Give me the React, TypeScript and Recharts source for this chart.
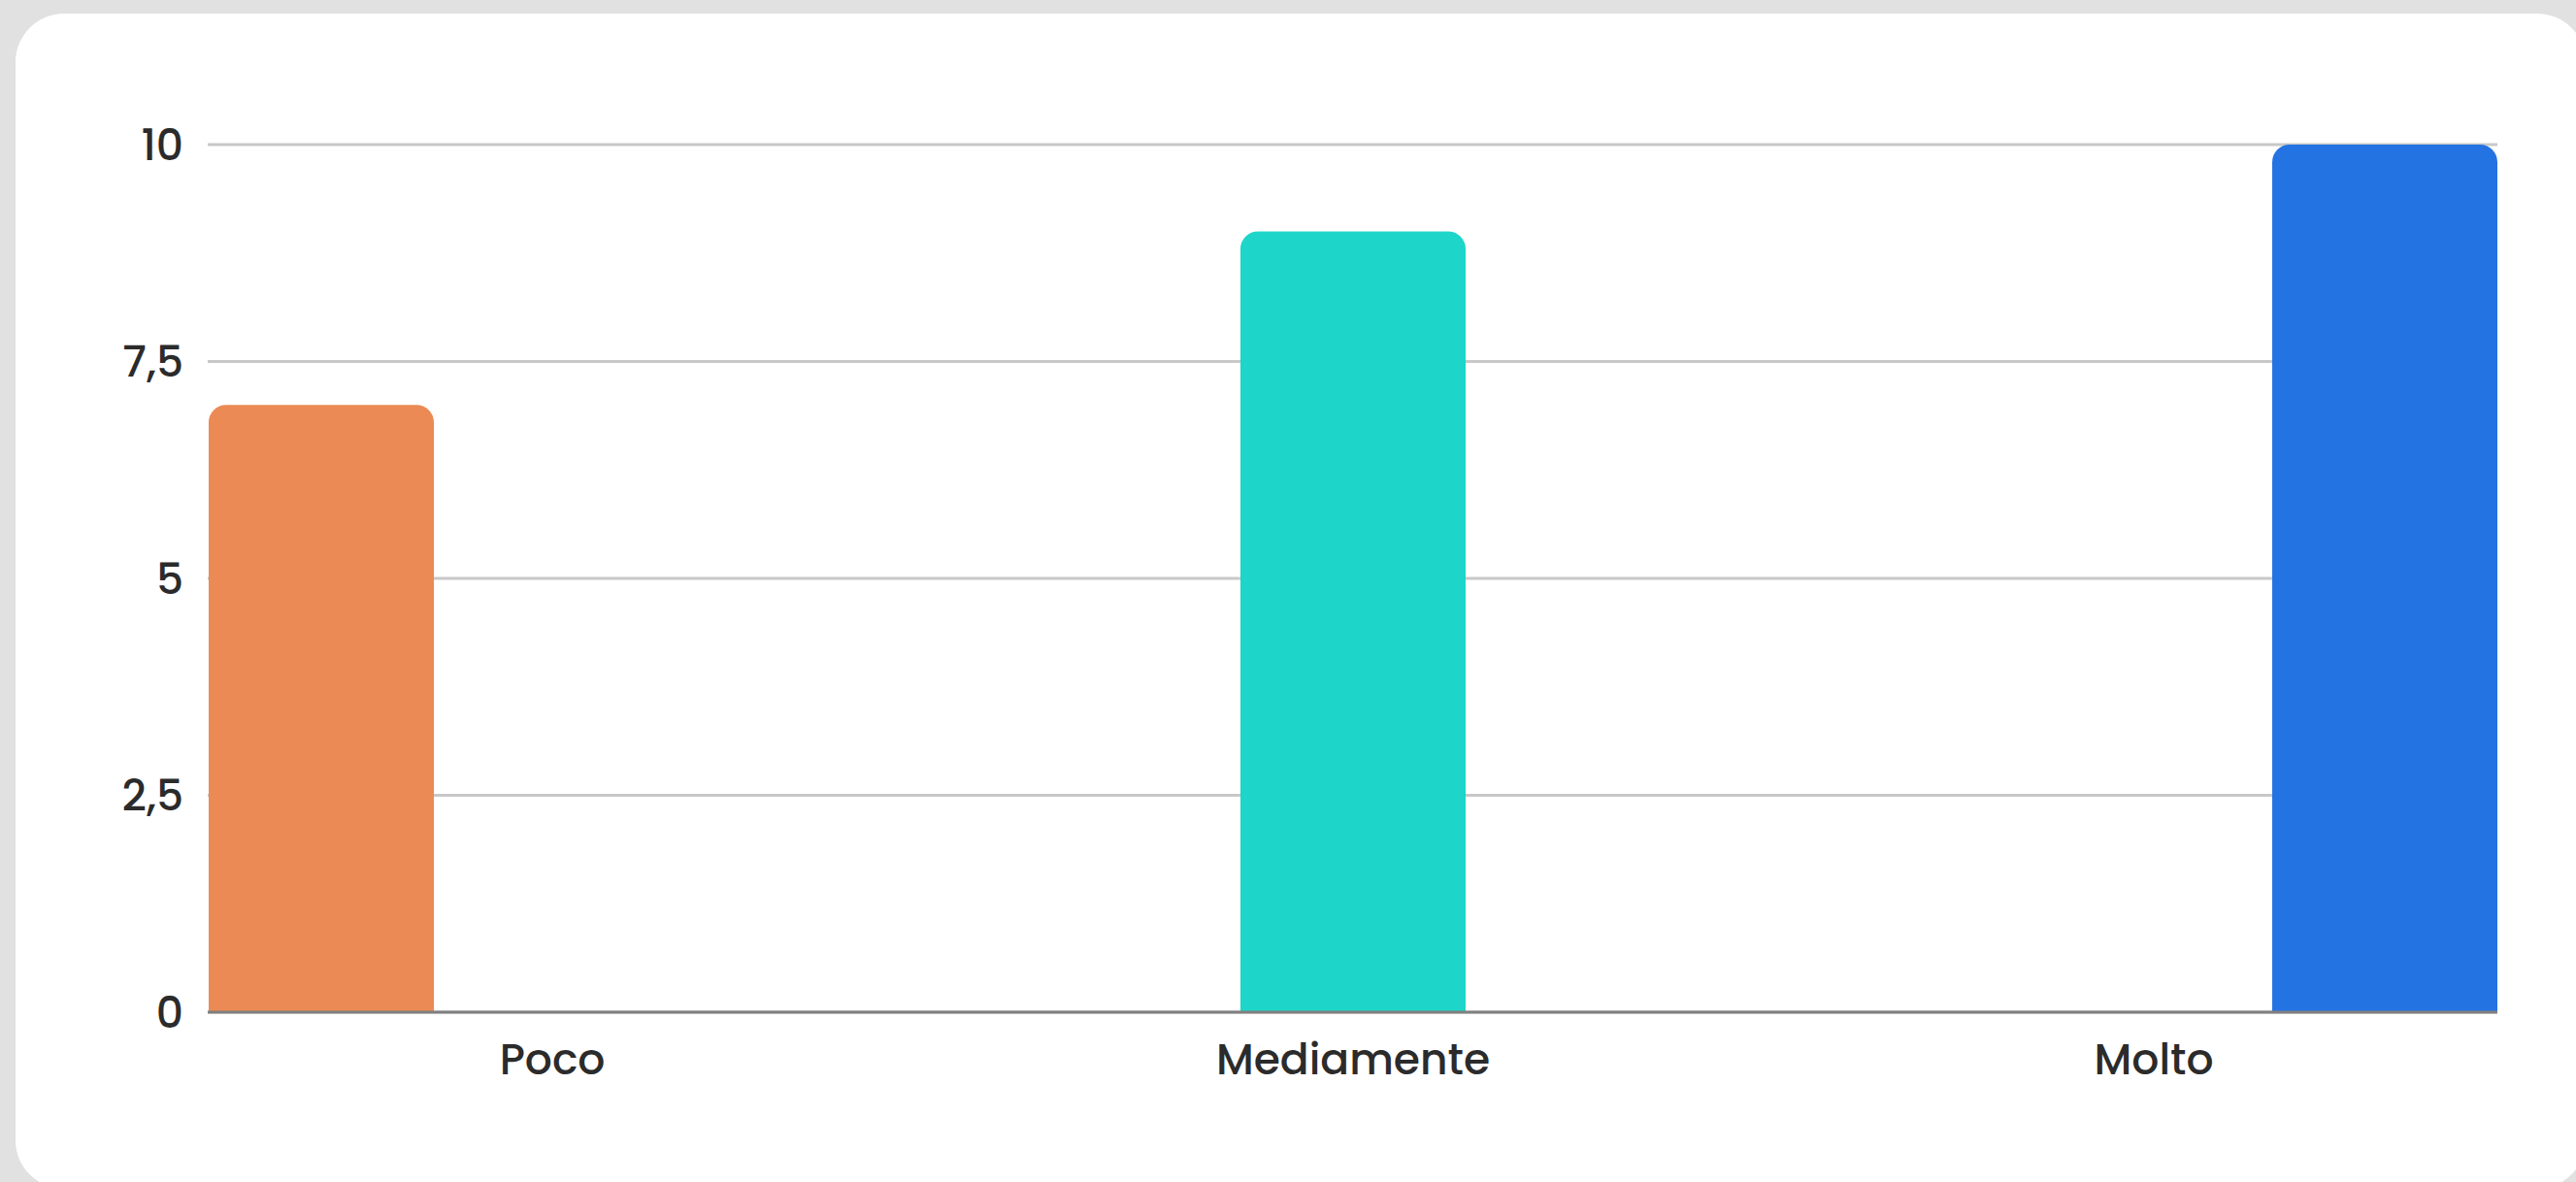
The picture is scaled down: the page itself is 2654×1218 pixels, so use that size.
import { BarChart, Bar, Cell, XAxis, YAxis, CartesianGrid } from 'recharts'

const categories = ['Poco', 'Mediamente', 'Molto']
const values = [7, 9, 10]
const yTicks = [0, 2.5, 5, 7.5, 10]
const barColors = ['#eb8a54', '#1dd5c9', '#2473e2']

const data = categories.map((label, i) => ({ label, value: values[i] }))

const tickStyle = {
  fill: '#2b2b2b',
  fontSize: 44,
  fontWeight: 500,
  fontFamily: 'Poppins, Inter, "Open Sans", sans-serif',
}

export default function App() {
  return (
    <div
      style={{
        position: 'absolute',
        left: 0,
        top: 0,
        width: 2654,
        height: 1218,
        overflow: 'hidden',
        background: '#e1e1e1',
      }}
    >
      <div
        style={{
          position: 'absolute',
          left: 16,
          top: 14,
          width: 2648,
          height: 1211,
          borderRadius: 50,
          background: '#ffffff',
        }}
      />
      <div style={{ position: 'absolute', left: 0, top: 0 }}>
        <BarChart
          width={2654}
          height={1218}
          data={data}
          margin={{ top: 149, right: 81, left: 114, bottom: 115 }}
        >
          <CartesianGrid
            xAxisId="labels"
            vertical={false}
            stroke="#c8c8c8"
            strokeWidth={3}
          />
          <YAxis
            domain={[0, 10]}
            ticks={yTicks}
            interval={0}
            width={100}
            tick={tickStyle}
            tickFormatter={v => String(v).replace('.', ',')}
            tickLine={false}
            tickSize={0}
            tickMargin={25}
            axisLine={false}
          />
          <XAxis
            xAxisId="labels"
            dataKey="label"
            scale="point"
            padding={{ left: 355, right: 354 }}
            height={60}
            tick={tickStyle}
            tickLine={false}
            tickSize={0}
            tickMargin={33}
            axisLine={{ stroke: '#808080', strokeWidth: 3 }}
          />
          <XAxis
            xAxisId="bars"
            dataKey="label"
            hide
            height={0}
            padding={{ left: -415, right: -415 }}
          />
          <Bar
            xAxisId="bars"
            dataKey="value"
            barSize={232}
            radius={[18, 18, 0, 0]}
            isAnimationActive={false}
          >
            {data.map((d, i) => (
              <Cell key={d.label} fill={barColors[i]} />
            ))}
          </Bar>
        </BarChart>
      </div>
    </div>
  )
}
